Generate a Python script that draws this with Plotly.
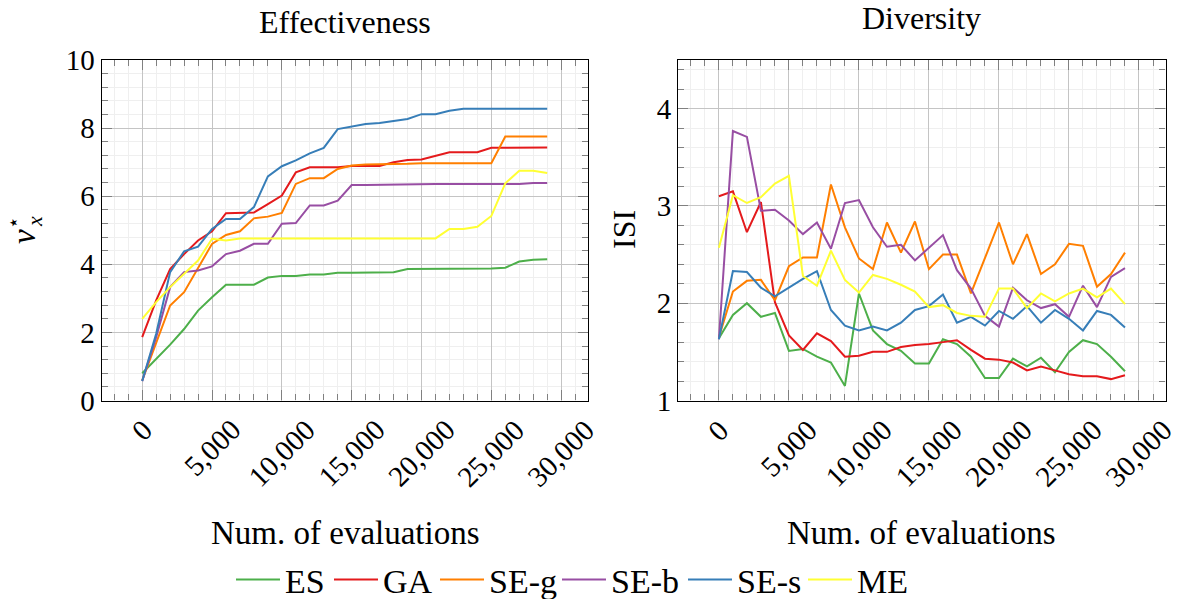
import plotly.graph_objects as go

# Evaluation counts (every 1,000 evaluations)
evaluations = [i * 1000 for i in range(30)]

series_names = ["ES", "GA", "SE-g", "SE-b", "SE-s", "ME"]
series_colors = ["#4daf4a", "#e41a1c", "#ff7f00", "#984ea3", "#377eb8", "#ffff33"]

# Effectiveness (best v_x*)
eff_es = [0.80, 1.22, 1.64, 2.10, 2.64, 3.03, 3.40, 3.40, 3.40, 3.61, 3.66, 3.66, 3.70, 3.70, 3.75,
          3.75, 3.75, 3.75, 3.77, 3.86, 3.86, 3.86, 3.86, 3.86, 3.86, 3.88, 3.90, 4.08, 4.13, 4.15]
eff_ga = [1.86, 2.94, 3.86, 4.30, 4.70, 4.97, 5.50, 5.52, 5.52, 5.77, 6.02, 6.70, 6.85, 6.85, 6.85,
          6.89, 6.89, 6.89, 7.00, 7.06, 7.08, 7.18, 7.29, 7.29, 7.29, 7.42, 7.42, 7.42, 7.42, 7.43]
eff_seg = [0.59, 1.71, 2.79, 3.18, 3.91, 4.60, 4.86, 4.97, 5.35, 5.40, 5.51, 6.36, 6.53, 6.53, 6.80,
           6.90, 6.93, 6.93, 6.93, 6.95, 6.97, 6.97, 6.97, 6.97, 6.97, 6.97, 7.75, 7.75, 7.75, 7.75]
eff_seb = [0.57, 1.86, 3.33, 3.77, 3.82, 3.94, 4.30, 4.40, 4.60, 4.60, 5.19, 5.21, 5.73, 5.73, 5.87,
           6.33, 6.33, 6.34, 6.35, 6.36, 6.36, 6.36, 6.36, 6.36, 6.36, 6.36, 6.36, 6.36, 6.39, 6.39]
eff_ses = [0.57, 1.96, 3.77, 4.38, 4.52, 5.04, 5.33, 5.33, 5.68, 6.58, 6.88, 7.05, 7.26, 7.42, 7.97,
           8.05, 8.12, 8.15, 8.20, 8.27, 8.41, 8.41, 8.51, 8.57, 8.57, 8.57, 8.57, 8.57, 8.57, 8.57]
eff_me = [2.40, 2.89, 3.33, 3.72, 4.11, 4.75, 4.70, 4.76, 4.76, 4.76, 4.76, 4.76, 4.76, 4.76, 4.76,
          4.76, 4.76, 4.76, 4.76, 4.76, 4.76, 4.76, 5.04, 5.04, 5.10, 5.42, 6.38, 6.75, 6.75, 6.68]

# Diversity (ISI)
div_es = [1.64, 1.88, 2.00, 1.86, 1.90, 1.51, 1.53, 1.45, 1.39, 1.15, 2.10, 1.72, 1.58, 1.51, 1.38,
          1.38, 1.63, 1.58, 1.45, 1.23, 1.23, 1.43, 1.35, 1.44, 1.29, 1.50, 1.62, 1.58, 1.45, 1.30]
div_ga = [3.10, 3.15, 2.73, 3.04, 2.01, 1.67, 1.52, 1.69, 1.61, 1.45, 1.46, 1.50, 1.50, 1.55, 1.57,
          1.58, 1.60, 1.62, 1.52, 1.43, 1.42, 1.39, 1.31, 1.35, 1.31, 1.27, 1.25, 1.25, 1.22, 1.26]
div_seg = [1.65, 2.12, 2.23, 2.24, 2.03, 2.38, 2.47, 2.47, 3.22, 2.78, 2.46, 2.35, 2.83, 2.52, 2.84,
           2.35, 2.50, 2.50, 2.10, 2.47, 2.83, 2.40, 2.71, 2.30, 2.40, 2.61, 2.59, 2.17, 2.30, 2.52]
div_seb = [1.63, 3.77, 3.71, 2.95, 2.96, 2.85, 2.71, 2.83, 2.56, 3.03, 3.06, 2.78, 2.58, 2.60, 2.44,
           2.57, 2.70, 2.34, 2.15, 1.87, 1.76, 2.16, 2.03, 1.95, 1.99, 1.86, 2.18, 1.96, 2.27, 2.36]
div_ses = [1.63, 2.33, 2.32, 2.16, 2.07, 2.16, 2.25, 2.33, 1.93, 1.77, 1.72, 1.76, 1.72, 1.80, 1.93,
           1.97, 2.09, 1.80, 1.86, 1.77, 1.92, 1.84, 1.97, 1.80, 1.93, 1.84, 1.72, 1.92, 1.88, 1.75]
div_me = [2.57, 3.11, 3.03, 3.09, 3.23, 3.31, 2.28, 2.18, 2.54, 2.24, 2.11, 2.29, 2.25, 2.19, 2.12,
          1.96, 1.98, 1.90, 1.87, 1.86, 2.15, 2.15, 1.95, 2.10, 2.02, 2.10, 2.15, 2.06, 2.15, 1.99]

effectiveness = [eff_es, eff_ga, eff_seg, eff_seb, eff_ses, eff_me]
diversity = [div_es, div_ga, div_seg, div_seb, div_ses, div_me]

x_tick_vals = [0, 5000, 10000, 15000, 20000, 25000, 30000]
x_tick_text = ["0", "5,000", "10,000", "15,000", "20,000", "25,000", "30,000"]

W, H = 1177, 599
FONT = "Liberation Serif"

# per-entry legend text widths (px) so entries are spaced like the LaTeX legend
legend_widths = [39, 47, 63, 67, 61, 50]

fig = go.Figure()

for name, color, ys, lw in zip(series_names, series_colors, effectiveness, legend_widths):
    fig.add_trace(go.Scatter(x=evaluations, y=ys, mode="lines", name=name,
                             line=dict(color=color, width=2), xaxis="x", yaxis="y",
                             legendgroup=name, legendwidth=lw))
for name, color, ys in zip(series_names, series_colors, diversity):
    fig.add_trace(go.Scatter(x=evaluations, y=ys, mode="lines", name=name,
                             line=dict(color=color, width=2), xaxis="x2", yaxis="y2",
                             legendgroup=name, showlegend=False))


def px_x(p):
    return p / W


def px_y(p):
    return 1 - p / H


common = dict(
    showline=True, linecolor="black", linewidth=1.3, mirror="allticks",
    ticks="inside", ticklen=10, tickwidth=1, tickcolor="#808080",
    showgrid=True, gridcolor="#c4c4c4", gridwidth=1,
    zeroline=False,
    tickfont=dict(family=FONT, size=29, color="black"),
)

xcommon = dict(common, range=[-2900, 31900], tickmode="array", tickvals=x_tick_vals,
               showticklabels=False,
               minor=dict(dtick=1000, tick0=0, ticks="inside", ticklen=6, tickcolor="#808080",
                          showgrid=True, gridcolor="#efefef", gridwidth=1))

fig.update_layout(
    width=W, height=H,
    margin=dict(l=0, r=0, t=0, b=0, autoexpand=False),
    plot_bgcolor="white", paper_bgcolor="white",
    font=dict(family=FONT, color="black"),
    xaxis=dict(xcommon, domain=[px_x(101.7), px_x(587.7)], anchor="y"),
    yaxis=dict(common, domain=[px_y(400.5), px_y(60)], anchor="x", range=[0, 10],
               dtick=2, tick0=0,
               minor=dict(dtick=0.4, tick0=0, ticks="inside", ticklen=6, tickcolor="#808080",
                          showgrid=True, gridcolor="#efefef", gridwidth=1)),
    xaxis2=dict(xcommon, domain=[px_x(678.3), px_x(1165.6)], anchor="y2"),
    yaxis2=dict(common, domain=[px_y(400.5), px_y(60)], anchor="x2", range=[1, 4.5],
                dtick=1, tick0=1,
                minor=dict(dtick=0.2, tick0=1, ticks="inside", ticklen=6, tickcolor="#808080",
                           showgrid=True, gridcolor="#efefef", gridwidth=1)),
    legend=dict(orientation="h", x=px_x(231), xanchor="left", y=px_y(580), yanchor="middle",
                font=dict(family=FONT, size=34, color="black"),
                itemwidth=44, tracegroupgap=0, bgcolor="rgba(0,0,0,0)"),
    showlegend=True,
)

annotations = [
    dict(text="Effectiveness", x=px_x(345), y=px_y(22), font=dict(size=32)),
    dict(text="Diversity", x=px_x(921), y=px_y(18), font=dict(size=32)),
    dict(text="Num. of evaluations", x=px_x(345), y=px_y(533), font=dict(size=33)),
    dict(text="Num. of evaluations", x=px_x(921), y=px_y(533), font=dict(size=33)),
    dict(text="<i>v</i>", x=px_x(24), y=px_y(237), font=dict(size=33), textangle=-90),
    dict(text="⋆", x=px_x(13), y=px_y(223), font=dict(size=20), textangle=-90),
    dict(text="<i>x</i>", x=px_x(34), y=px_y(222), font=dict(size=22), textangle=-90),
    dict(text="ISI", x=px_x(624), y=px_y(230), font=dict(size=32), textangle=-90),
]
for a in annotations:
    a.update(xref="paper", yref="paper", showarrow=False, xanchor="center", yanchor="middle")

# rotated x tick labels, centred under their ticks
for xref in ("x", "x2"):
    for val, txt in zip(x_tick_vals, x_tick_text):
        annotations.append(dict(text=txt, x=val, y=px_y(411), xref=xref, yref="paper",
                                showarrow=False, xanchor="center", yanchor="top",
                                textangle=-45, font=dict(size=29)))

for a in annotations:
    a["font"] = dict(a["font"], family=FONT, color="black")
fig.update_layout(annotations=annotations)

fig.write_html("out.html")
